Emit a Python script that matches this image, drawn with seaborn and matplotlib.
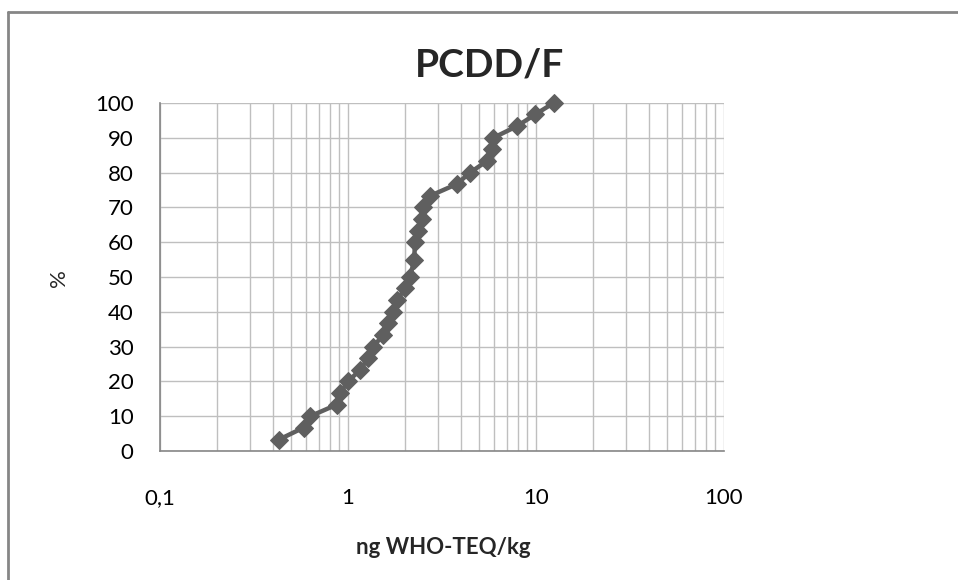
import matplotlib
matplotlib.use("Agg")
import matplotlib.pyplot as plt
import seaborn as sns
import pandas as pd
from matplotlib.lines import Line2D
from matplotlib.ticker import FixedLocator, LogLocator, NullFormatter

# cumulative distribution
conc = [0.43, 0.58, 0.63, 0.87, 0.91, 1.0, 1.16, 1.28, 1.36, 1.54,
        1.64, 1.74, 1.82, 2.01, 2.14, 2.25, 2.25, 2.27, 2.37, 2.47,
        2.51, 2.73, 3.79, 4.46, 5.47, 5.81, 5.93, 7.9, 9.9, 12.4]
pct = [3.3, 6.7, 10.0, 13.3, 16.7, 20.0, 23.3, 26.7, 30.0, 33.3,
       36.7, 40.0, 43.3, 46.7, 50.0, 53.3, 56.7, 60.0, 63.3, 66.7,
       70.0, 73.3, 76.7, 80.0, 83.3, 86.7, 90.0, 93.3, 96.7, 100.0]
xticks = [0.1, 1, 10, 100]
xticklabels = ["0,1", "1", "10", "100"]
yticks = list(range(0, 101, 10))

df = pd.DataFrame({"conc": conc, "pct": pct})

sns.set_style("white")
plt.rcParams["font.family"] = ["Lato", "DejaVu Sans"]

fig = plt.figure(figsize=(9.58, 5.8), dpi=100)
ax = fig.add_axes([160 / 958, 1 - 451 / 580, 564 / 958, 348 / 580])

grid_c = "#bfbfbf"
axis_c = "#868686"
mark_c = "#5f5f5f"

sns.lineplot(data=df, x="conc", y="pct", ax=ax, color=mark_c, lw=3.2,
             marker="D", markersize=9, markeredgecolor=mark_c, sort=False)
for ln in ax.lines:
    ln.set_clip_on(False)

ax.set_xscale("log")
ax.set_xlim(0.1, 100)
ax.set_ylim(0, 100)

ax.xaxis.set_major_locator(FixedLocator(xticks))
ax.set_xticklabels(xticklabels)
ax.xaxis.set_minor_locator(LogLocator(base=10, subs=range(2, 10)))
ax.xaxis.set_minor_formatter(NullFormatter())
ax.set_yticks(yticks)

ax.grid(which="major", axis="both", color=grid_c, lw=1)
ax.grid(which="minor", axis="x", color=grid_c, lw=1)
ax.set_axisbelow(True)

for s in ["top", "right"]:
    ax.spines[s].set_visible(False)
for s in ["left", "bottom"]:
    ax.spines[s].set_color(axis_c)
    ax.spines[s].set_linewidth(1.2)

ax.tick_params(axis="both", which="major", direction="out", length=7,
               color=axis_c, width=1, labelsize=16, colors="#000000")
ax.tick_params(axis="y", which="major", pad=12)
ax.tick_params(axis="x", which="major", pad=20)
ax.tick_params(axis="x", which="minor", length=0)
for t in ax.get_xticklines() + ax.get_yticklines():
    t.set_color(axis_c)

ax.set_xlabel("")
ax.set_ylabel("")
ax.set_title("PCDD/F", fontsize=28, fontweight="bold", x=(490 - 160) / 564, pad=19)
fig.text(443 / 958, 1 - 548 / 580, "ng WHO-TEQ/kg", ha="center", va="center",
         fontsize=16, fontweight="bold")
fig.text(59 / 958, 1 - 278 / 580, "%", ha="center", va="center",
         fontsize=16, rotation=90)

# chart frame (left and top edges visible)
fig.add_artist(Line2D([8 / 958, 8 / 958], [0, 1 - 12 / 580], transform=fig.transFigure,
                      color=axis_c, lw=2))
fig.add_artist(Line2D([8 / 958, 1], [1 - 12 / 580, 1 - 12 / 580], transform=fig.transFigure,
                      color=axis_c, lw=2))

fig.savefig("out.png", dpi=100)
